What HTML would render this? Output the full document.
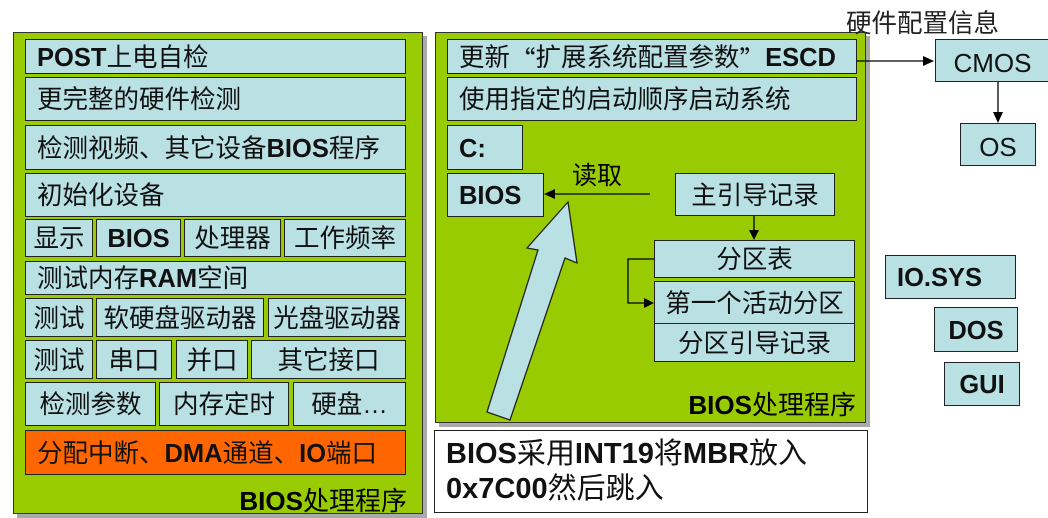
<!DOCTYPE html>
<html><head><meta charset="utf-8"><style>
body{margin:0;width:1048px;height:517px;background:#fff;position:relative;overflow:hidden;font-family:"Liberation Sans","Noto Sans CJK SC",sans-serif;}
div{position:absolute;box-sizing:border-box;}
.p{background:#99CC00;border:1.5px solid #333;box-shadow:4px 4px 0 #aaa;}
.b{background:#B9E0E3;border:1.5px solid #222;font-size:25.5px;line-height:1;display:flex;align-items:center;white-space:nowrap;color:#111;padding-top:4px;}
.l{padding-left:11px;}
.c{justify-content:center;}
b{font-weight:bold;}
.q{font-family:"Noto Sans CJK SC",sans-serif;}
svg{position:absolute;left:0;top:0;}
</style></head><body>
<div class="p" style="left:13px;top:32px;width:410px;height:482px"></div>
<div class="p" style="left:435px;top:32px;width:431px;height:391px"></div>

<div class="b l" style="left:25px;top:39px;width:381px;height:35px"><b>POST</b>上电自检</div>
<div class="b l" style="left:25px;top:77px;width:381px;height:44px">更完整的硬件检测</div>
<div class="b l" style="left:25px;top:125px;width:381px;height:45px">检测视频、其它设备<b>BIOS</b>程序</div>
<div class="b l" style="left:25px;top:173px;width:381px;height:44px">初始化设备</div>
<div class="b c" style="left:25px;top:219px;width:68px;height:38px">显示</div>
<div class="b c" style="left:96px;top:219px;width:85px;height:38px"><b>BIOS</b></div>
<div class="b c" style="left:184px;top:219px;width:97px;height:38px">处理器</div>
<div class="b c" style="left:284px;top:219px;width:122px;height:38px">工作频率</div>
<div class="b l" style="left:25px;top:261px;width:381px;height:34px">测试内存<b>RAM</b>空间</div>
<div class="b c" style="left:25px;top:298px;width:68px;height:39px">测试</div>
<div class="b c" style="left:96px;top:298px;width:168px;height:39px">软硬盘驱动器</div>
<div class="b c" style="left:268px;top:298px;width:138px;height:39px">光盘驱动器</div>
<div class="b c" style="left:25px;top:340px;width:68px;height:39px">测试</div>
<div class="b c" style="left:96px;top:340px;width:76px;height:39px">串口</div>
<div class="b c" style="left:176px;top:340px;width:72px;height:39px">并口</div>
<div class="b c" style="left:251px;top:340px;width:155px;height:39px">其它接口</div>
<div class="b c" style="left:25px;top:382px;width:131px;height:44px">检测参数</div>
<div class="b c" style="left:159px;top:382px;width:130px;height:44px">内存定时</div>
<div class="b c" style="left:293px;top:382px;width:113px;height:44px">硬盘…</div>
<div class="b l" style="left:25px;top:430px;width:381px;height:45px;background:#FF6600">分配中断、<b>DMA</b>通道、<b>IO</b>端口</div>
<div style="left:150px;top:481px;width:257px;text-align:right;font-size:26px;"><b>BIOS</b>处理程序</div>

<div class="b l" style="left:447px;top:39px;width:410px;height:35px">更新<span class="q">“</span>扩展系统配置参数<span class="q">”</span><b>ESCD</b></div>
<div class="b l" style="left:447px;top:77px;width:410px;height:44px">使用指定的启动顺序启动系统</div>
<div class="b l" style="left:447px;top:125px;width:76px;height:45px"><b>C:</b></div>
<div class="b l" style="left:447px;top:173px;width:97px;height:44px"><b>BIOS</b></div>
<div style="left:572px;top:156px;font-size:25px;">读取</div>
<div class="b c" style="left:675px;top:173px;width:160px;height:43px">主引导记录</div>
<div class="b c" style="left:654px;top:240px;width:201px;height:38px">分区表</div>
<div class="b c" style="left:654px;top:281px;width:201px;height:43px">第一个活动分区</div>
<div class="b c" style="left:654px;top:323px;width:201px;height:39px">分区引导记录</div>
<div style="left:600px;top:385px;width:256px;text-align:right;font-size:26px;"><b>BIOS</b>处理程序</div>

<div style="left:434px;top:430px;width:434px;height:83px;border:1.5px solid #222;background:#fff;font-size:29px;line-height:35px;padding:6px 0 0 11px;color:#111;white-space:nowrap"><b>BIOS</b>采用<b>INT19</b>将<b>MBR</b>放入<br><b>0x7C00</b>然后跳入</div>

<div style="left:846px;top:3px;font-size:25.5px;color:#222">硬件配置信息</div>
<div class="b c" style="left:935px;top:39px;width:115px;height:43px;font-size:26px">CMOS</div>
<div class="b c" style="left:960px;top:123px;width:76px;height:43px;font-size:26px">OS</div>
<div class="b l" style="left:885px;top:255px;width:131px;height:44px"><b>IO.SYS</b></div>
<div class="b c" style="left:934px;top:307px;width:84px;height:45px"><b>DOS</b></div>
<div class="b c" style="left:944px;top:362px;width:76px;height:44px"><b>GUI</b></div>

<svg width="1048" height="517">
<g stroke="#000" stroke-width="1.3" fill="none">
<line x1="857" y1="61" x2="924" y2="61"/>
<line x1="998" y1="82" x2="998" y2="114"/>
<line x1="650" y1="194" x2="553" y2="194"/>
<line x1="754" y1="216" x2="754" y2="232"/>
<polyline points="654,259 628,259 628,303 646,303"/>
</g>
<g fill="#000">
<polygon points="934,61 923,56 923,66"/>
<polygon points="998,123 993,112 1003,112"/>
<polygon points="544,194 555,189 555,199"/>
<polygon points="754,240 749,230 759,230"/>
<polygon points="654,303 644,298 644,308"/>
</g>
<polygon points="568,202 527,248 538,250 487,412 510,420 565,258 577,263" fill="#B9E0E3" stroke="#222" stroke-width="1.3"/>
</svg>
</body></html>
